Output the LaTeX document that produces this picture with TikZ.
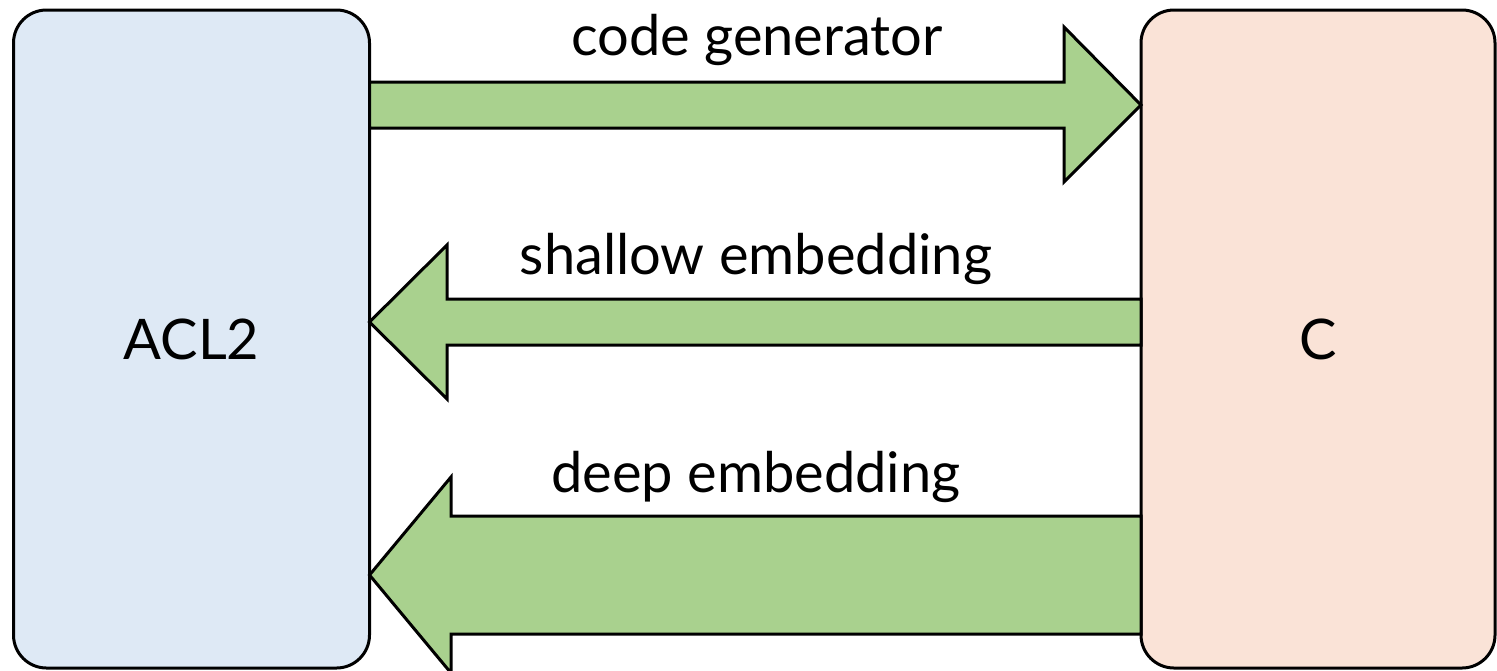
\documentclass[tikz,border=0pt]{standalone}
\usepackage{fontspec}
\setmainfont{Lato}
\definecolor{aclblue}{HTML}{DEE9F5}
\definecolor{cpeach}{HTML}{FAE3D7}
\definecolor{arrowgreen}{HTML}{A9D18E}

\begin{document}
\begin{tikzpicture}[x=0.5pt, y=-0.5pt, font=\fontsize{28}{33}\selectfont,
    langbox/.style={draw, line width=1.5pt, rounded corners=16.5pt,
        minimum width=178pt, minimum height=329pt, outer sep=0pt},
    fatarrow/.style={draw, line width=1.5pt, fill=arrowgreen, line join=miter}]
    \useasboundingbox (0,0) rectangle (1497,670);

    % The two languages
    \node[langbox, fill=aclblue] (acl) at (191.5,339) {ACL2};
    \node[langbox, fill=cpeach, minimum width=177pt] (c) at (1318,339) {C};

    % ACL2 -> C
    \draw[fatarrow] (acl.east |- 0,82) -- (1064,82) -- (1064,27) -- (c.west |- 0,105)
        -- (1064,182) -- (1064,128) -- (acl.east |- 0,128) -- cycle;
    \node (gen) at (757,40) {code generator};

    % C -> ACL2: tip, head base, head half height, shaft half height, label height
    \foreach \name/\tip/\base/\head/\shaft/\laby/\lab in {
        shallow/322/447/77/23/259/shallow embedding,
        deep/575/451/98/59/477/deep embedding
    } {
        \draw[fatarrow] (c.west |- 0,\tip-\shaft) -- (\base,\tip-\shaft) -- (\base,\tip-\head)
            -- (acl.east |- 0,\tip) -- (\base,\tip+\head) -- (\base,\tip+\shaft)
            -- (c.west |- 0,\tip+\shaft) -- cycle;
        \node (\name) at (756,\laby) {\lab};
    }
\end{tikzpicture}
\end{document}
